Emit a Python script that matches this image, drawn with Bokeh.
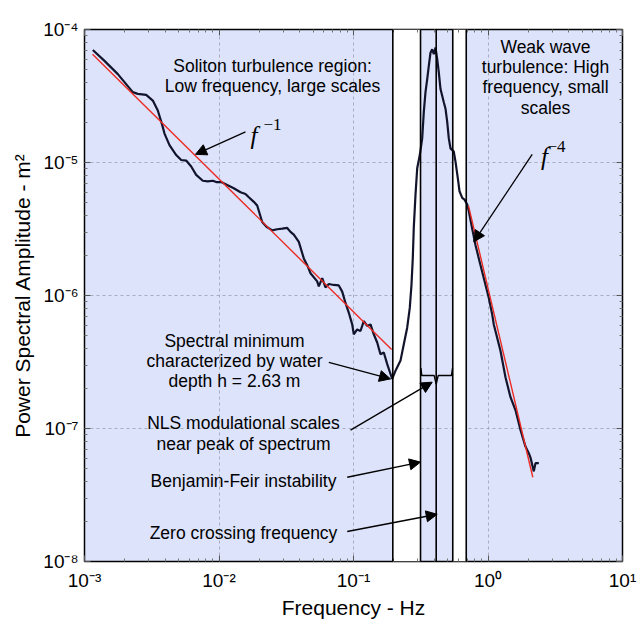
from bokeh.plotting import figure
from bokeh.models import (FixedTicker, CustomJSTickFormatter, BoxAnnotation, Span,
                          Arrow, NormalHead, LogAxis)
from bokeh.core.properties import value
from bokeh.embed import file_html
from bokeh.resources import INLINE

# ---- data ----
freq_hz = [1.153e-3, 1.408e-3, 1.769e-3, 2.286e-3, 2.490e-3, 2.876e-3, 3.220e-3, 3.508e-3, 3.757e-3, 3.935e-3,
           4.285e-3, 4.806e-3, 5.236e-3, 5.702e-3, 6.214e-3, 6.767e-3, 7.577e-3, 8.255e-3, 8.994e-3, 9.532e-3,
           1.038e-2, 1.151e-2, 1.288e-2, 1.446e-2, 1.574e-2, 1.666e-2, 1.815e-2, 1.923e-2, 2.095e-2, 2.255e-2,
           2.486e-2, 2.709e-2, 2.951e-2, 3.215e-2, 3.401e-2, 3.598e-2, 3.921e-2, 4.271e-2, 4.527e-2, 4.790e-2,
           5.370e-2, 5.521e-2, 5.853e-2, 6.190e-2, 6.554e-2, 7.137e-2, 7.774e-2, 8.241e-2, 8.719e-2, 9.228e-2,
           9.779e-2, 0.1005, 0.1065, 0.1127, 0.1193, 0.1264, 0.1338, 0.1415, 0.1500, 0.1587,
           0.1680, 0.1781, 0.1884, 0.1940, 0.2053, 0.2236, 0.2366, 0.2507, 0.2621, 0.2698,
           0.2759, 0.2807, 0.2891, 0.2976, 0.3111, 0.3242, 0.3332, 0.3430, 0.3532, 0.3630,
           0.3737, 0.3847, 0.3954, 0.4072, 0.4192, 0.4307, 0.4434, 0.4565, 0.4692, 0.4831,
           0.4974, 0.5112, 0.5263, 0.5568, 0.5733, 0.5964, 0.6140, 0.6431, 0.6689, 0.7005,
           0.7198, 0.7631, 0.8076, 0.8543, 0.9307, 1.014, 1.075, 1.104, 1.238, 1.349,
           1.470, 1.602, 1.744, 1.900, 2.011, 2.070, 2.190, 2.256, 2.387]
psd_m2 = [7.01e-5, 5.81e-5, 4.62e-5, 3.38e-5, 3.28e-5, 3.22e-5, 2.92e-5, 2.46e-5, 1.96e-5, 1.65e-5,
          1.35e-5, 1.138e-5, 1.044e-5, 1.034e-5, 9.33e-6, 8.07e-6, 7.29e-6, 7.21e-6, 7.29e-6, 7.13e-6,
          7.13e-6, 6.77e-6, 6.40e-6, 5.97e-6, 5.80e-6, 5.48e-6, 5.06e-6, 4.75e-6, 3.57e-6, 3.29e-6,
          3.09e-6, 3.15e-6, 3.18e-6, 3.22e-6, 3.01e-6, 2.87e-6, 2.53e-6, 1.90e-6, 1.69e-6, 1.47e-6,
          1.276e-6, 1.17e-6, 1.35e-6, 1.15e-6, 1.22e-6, 1.20e-6, 1.19e-6, 1.07e-6, 8.79e-7, 7.41e-7,
          6.06e-7, 5.11e-7, 5.56e-7, 5.41e-7, 6.42e-7, 5.90e-7, 6.06e-7, 5.11e-7, 4.43e-7, 3.62e-7,
          3.73e-7, 3.05e-7, 2.57e-7, 2.36e-7, 2.72e-7, 3.24e-7, 4.30e-7, 5.73e-7, 8.07e-7, 1.20e-6,
          1.90e-6, 3.24e-6, 5.73e-6, 9.06e-6, 1.138e-5, 1.517e-5, 2.40e-5, 3.38e-5, 4.24e-5, 5.33e-5,
          6.70e-5, 7.10e-5, 6.52e-5, 7.31e-5, 5.98e-5, 4.76e-5, 3.57e-5, 3.18e-5, 2.84e-5, 2.54e-5,
          2.02e-5, 1.517e-5, 1.277e-5, 1.207e-5, 1.016e-5, 7.63e-6, 6.08e-6, 5.42e-6, 5.26e-6, 4.83e-6,
          4.31e-6, 3.18e-6, 2.39e-6, 1.90e-6, 1.35e-6, 9.58e-7, 7.19e-7, 6.06e-7, 3.84e-7, 2.43e-7,
          1.72e-7, 1.37e-7, 9.74e-8, 7.31e-8, 6.52e-8, 6.05e-8, 4.76e-8, 5.49e-8, 5.49e-8]

fit_low_f = [1.147e-3, 0.192]
fit_low_s = [6.52e-5, 3.93e-7]
fit_high_f = [0.716, 2.154]
fit_high_s = [4.72e-6, 4.3e-8]

band_edges = [(0.196, 0.315), (0.547, 0.689)]
vline_freqs = [0.196, 0.315, 0.412, 0.547, 0.689]

x_ticks = [1e-3, 1e-2, 1e-1, 1e0, 1e1]
x_tick_labels = ["10⁻³", "10⁻²", "10⁻¹", "10⁰", "10¹"]
y_ticks = [1e-8, 1e-7, 1e-6, 1e-5, 1e-4]
y_tick_labels = ["10⁻⁸", "10⁻⁷", "10⁻⁶", "10⁻⁵", "10⁻⁴"]

FONT = "Liberation Sans"

p = figure(width=637, height=621, x_axis_type="log", y_axis_type="log",
           x_range=(1e-3, 1e1), y_range=(1e-8, 1e-4),
           output_backend="svg", toolbar_location=None,
           min_border_left=84, min_border_right=15, min_border_top=29, min_border_bottom=55,
           background_fill_color="#dde3fb", border_fill_color="white")
p.outline_line_color = "black"
p.outline_line_width = 1.5

def minor(lo, hi):
    return [m * 10.0 ** e for e in range(lo, hi) for m in range(2, 10)]

x_fmt = CustomJSTickFormatter(args=dict(labels=x_tick_labels),
                              code="return labels[Math.round(Math.log10(tick)) + 3];")
y_fmt = CustomJSTickFormatter(args=dict(labels=y_tick_labels),
                              code="return labels[Math.round(Math.log10(tick)) + 8];")

for ax, ticks, mn, fmt in ((p.xaxis[0], x_ticks, minor(-3, 1), x_fmt),
                            (p.yaxis[0], y_ticks, minor(-8, -4), y_fmt)):
    ax.ticker = FixedTicker(ticks=ticks, minor_ticks=mn)
    ax.formatter = fmt
    ax.major_tick_in = 6
    ax.major_tick_out = 0
    ax.minor_tick_in = 3
    ax.minor_tick_out = 0
    ax.axis_line_color = None
    ax.major_tick_line_color = "#555555"
    ax.minor_tick_line_color = "#777777"
    ax.major_label_text_font = FONT
    ax.major_label_text_font_size = "19px"
    ax.major_label_text_color = "black"
    ax.axis_label_text_font = FONT
    ax.axis_label_text_font_size = "21px"
    ax.axis_label_text_font_style = "normal"
    ax.axis_label_text_color = "black"

p.xaxis.axis_label = "Frequency - Hz"
p.yaxis.axis_label = "Power Spectral Amplitude - m²"
p.xaxis.major_label_standoff = 8
p.yaxis.major_label_standoff = 6
p.xaxis.axis_label_standoff = 2
p.yaxis.axis_label_standoff = 6

# mirrored tick marks on the top and right edges (no labels)
blank = CustomJSTickFormatter(code="return ' ';")
for loc, ticks, mn in (("above", x_ticks, minor(-3, 1)), ("right", y_ticks, minor(-8, -4))):
    a = LogAxis(ticker=FixedTicker(ticks=ticks, minor_ticks=mn), formatter=blank,
                major_label_text_font_size="2px", major_tick_in=6, major_tick_out=0,
                minor_tick_in=3, minor_tick_out=0, axis_line_color=None,
                major_tick_line_color="#555555", minor_tick_line_color="#777777",
                major_label_standoff=0)
    p.add_layout(a, loc)

p.xgrid.ticker = FixedTicker(ticks=x_ticks)
p.ygrid.ticker = FixedTicker(ticks=y_ticks)
p.grid.grid_line_color = "#9aa0b4"
p.grid.grid_line_dash = "3 3"
p.grid.grid_line_alpha = 0.8
p.grid.grid_line_width = 1

for lo, hi in band_edges:
    p.add_layout(BoxAnnotation(left=lo, right=hi, fill_color="white", fill_alpha=1.0,
                               line_color=None, level="underlay"))

for xf in vline_freqs:
    p.add_layout(Span(location=xf, dimension="height", line_color="black", line_width=1.6))

p.line(freq_hz, psd_m2, line_color="#12142c", line_width=2.2)
p.line(fit_low_f, fit_low_s, line_color="#ec2b22", line_width=1.4)
p.line(fit_high_f, fit_high_s, line_color="#ec2b22", line_width=1.4)

# curly brace over NLS scales
p.line([0.317, 0.322, 0.398, 0.412, 0.426, 0.535, 0.545],
       [2.85e-7, 2.5e-7, 2.5e-7, 2.15e-7, 2.5e-7, 2.5e-7, 2.85e-7],
       line_color="black", line_width=1.4)

# texts
def txt(xs, ys, texts, size="17.5px", align="center"):
    p.text(x=xs, y=ys, text=texts, text_font=value(FONT), text_font_size=size,
           text_align=align, text_baseline="alphabetic", text_color="black")

txt([0.0250, 0.0250], [5.30e-5, 3.76e-5],
    ["Soliton turbulence region:", "Low frequency, large scales"])
txt([2.676] * 4, [7.41e-5, 5.21e-5, 3.67e-5, 2.58e-5],
    ["Weak wave", "turbulence: High", "frequency, small", "scales"])
txt([0.01303] * 3, [4.58e-7, 3.20e-7, 2.27e-7],
    ["Spectral minimum", "characterized by water", "depth h = 2.63 m"])
txt([0.01521] * 2, [1.104e-7, 7.70e-8], ["NLS modulational scales", "near peak of spectrum"])
txt([0.01521], [4.06e-8], ["Benjamin-Feir instability"])
txt([0.01521], [1.652e-8], ["Zero crossing frequency"])

# power-law labels
p.text(x=[0.01714, 2.48], y=[1.60e-5, 1.10e-5], text=["f", "f"],
       text_font=value("Liberation Serif"), text_font_style="italic", text_font_size="25px",
       text_align="left", text_baseline="alphabetic", text_color="black")
p.text(x=[0.02143, 2.77], y=[1.93e-5, 1.33e-5], text=["−1", "−4"],
       text_font=value("Liberation Serif"), text_font_size="17px",
       text_align="left", text_baseline="alphabetic", text_color="black")

# arrows
arrows = [
    (0.01574, 1.70e-5, 6.69e-3, 1.152e-5),
    (2.131, 1.152e-5, 0.7841, 2.534e-6),
    (0.06554, 3.14e-7, 0.1884, 2.36e-7),
    (0.09499, 9.73e-8, 0.3847, 2.23e-7),
    (0.0898, 4.30e-8, 0.3149, 5.59e-8),
    (0.0898, 1.681e-8, 0.4192, 2.266e-8),
]
for xs, ys, xe, ye in arrows:
    p.add_layout(Arrow(end=NormalHead(size=11, fill_color="black", line_color="black", line_width=1),
                       x_start=xs, y_start=ys, x_end=xe, y_end=ye,
                       line_color="black", line_width=1.3))

open("out.html", "w").write(file_html(p, INLINE))
